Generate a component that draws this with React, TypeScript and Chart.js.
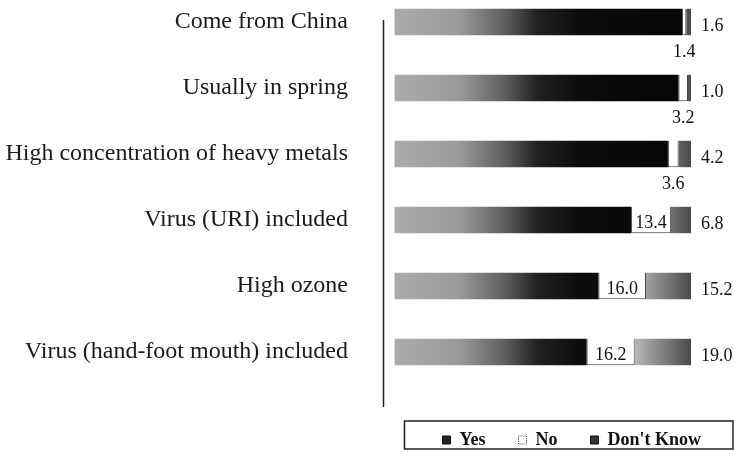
import React, { useEffect, useRef } from 'react';
import { Chart, registerables } from 'chart.js';

Chart.register(...registerables);

const categories = [
  'Come from China',
  'Usually in spring',
  'High concentration of heavy metals',
  'Virus (URI) included',
  'High ozone',
  'Virus (hand-foot mouth) included',
];
const yesValues = [97.0, 95.8, 92.2, 79.8, 68.8, 64.8];
const noValues = [1.4, 3.2, 3.6, 13.4, 16.0, 16.2];
const dontKnowValues = [1.6, 1.0, 4.2, 6.8, 15.2, 19.0];
const seriesNames = ['Yes', 'No', "Don't Know"];
const xMin = -3.9;
const xMax = 114.5;

const SERIF = '"Liberation Serif", "Times New Roman", serif';

export default function App() {
  const ref = useRef<HTMLCanvasElement>(null);

  useEffect(() => {
    const canvas = ref.current;
    if (!canvas) return;

    const yesFill = (c: any) => {
      const chart = c.chart;
      const xs = chart.scales && chart.scales.x;
      if (!chart.chartArea || !xs) return '#1a1a1a';
      const x0 = xs.getPixelForValue(0);
      const x1 = xs.getPixelForValue(100);
      const g = chart.ctx.createLinearGradient(x0, 0, x1, 0);
      g.addColorStop(0, '#acacac');
      g.addColorStop(0.22, '#9a9a9a');
      g.addColorStop(0.38, '#5a5a5a');
      g.addColorStop(0.48, '#222222');
      g.addColorStop(0.62, '#0c0c0c');
      g.addColorStop(1, '#050505');
      return g;
    };
    const dkFill = (c: any) => {
      const chart = c.chart;
      const xs = chart.scales && chart.scales.x;
      if (!chart.chartArea || !xs) return '#8a8a8a';
      const x0 = xs.getPixelForValue(80);
      const x1 = xs.getPixelForValue(100);
      const g = chart.ctx.createLinearGradient(x0, 0, x1, 0);
      g.addColorStop(0, '#bdbdbd');
      g.addColorStop(1, '#4a4a4a');
      return g;
    };

    const legendFills = ['#222222', '#ffffff', '#333333'];
    const legendStrokes = ['#111111', '#555555', '#111111'];

    const labelPlugin = {
      id: 'valueLabels',
      afterDatasetsDraw(chart: any) {
        const ctx = chart.ctx;
        ctx.save();
        ctx.font = `18px ${SERIF}`;
        ctx.fillStyle = '#111';
        ctx.textBaseline = 'middle';
        const noMeta = chart.getDatasetMeta(1);
        noMeta.data.forEach((el: any, i: number) => {
          const v = noValues[i];
          const cx = (el.x + el.base) / 2;
          ctx.textAlign = 'center';
          if (v >= 10) {
            ctx.fillText(v.toFixed(1), cx, el.y + 3);
          } else {
            ctx.fillText(v.toFixed(1), cx, el.y + 30);
          }
        });
        const dkMeta = chart.getDatasetMeta(2);
        dkMeta.data.forEach((el: any, i: number) => {
          ctx.textAlign = 'left';
          ctx.fillText(dontKnowValues[i].toFixed(1), el.x + 10, el.y + 4);
        });
        ctx.restore();
      },
    };

    const axisLinePlugin = {
      id: 'axisLine',
      afterDraw(chart: any) {
        const { ctx, chartArea } = chart;
        ctx.save();
        ctx.strokeStyle = '#222';
        ctx.lineWidth = 1.5;
        ctx.beginPath();
        ctx.moveTo(chartArea.left + 0.5, chartArea.top + 31);
        ctx.lineTo(chartArea.left + 0.5, chartArea.bottom + 22);
        ctx.stroke();
        ctx.restore();
      },
    };

    const legendBoxPlugin = {
      id: 'legendBox',
      afterDraw(chart: any) {
        const hb = chart.legend && chart.legend.legendHitBoxes;
        if (!hb || !hb.length) return;
        const ctx = chart.ctx;
        const first = hb[0];
        const last = hb[hb.length - 1];
        const left = first.left - 38;
        const right = Math.min(last.left + last.width + 32, chart.width - 1);
        const cy = first.top + first.height / 2;
        ctx.save();
        ctx.strokeStyle = '#222';
        ctx.lineWidth = 1.5;
        ctx.strokeRect(left, cy - 19, right - left, 28);
        ctx.restore();
      },
    };

    const chart = new Chart(canvas, {
      type: 'bar',
      data: {
        labels: categories,
        datasets: [
          {
            label: seriesNames[0],
            data: yesValues,
            backgroundColor: yesFill,
            borderWidth: 0,
          },
          {
            label: seriesNames[1],
            data: noValues,
            backgroundColor: '#ffffff',
            borderColor: '#333333',
            borderWidth: { top: 0, right: 1, bottom: 1, left: 1 },
            borderSkipped: false,
          },
          {
            label: seriesNames[2],
            data: dontKnowValues,
            backgroundColor: dkFill,
            borderWidth: 0,
          },
        ],
      },
      options: {
        indexAxis: 'y',
        responsive: false,
        animation: false,
        events: [],
        datasets: {
          bar: { categoryPercentage: 1, barPercentage: 0.4 },
        },
        layout: { padding: 0 },
        scales: {
          x: {
            stacked: true,
            min: xMin,
            max: xMax,
            display: true,
            grid: { display: false, drawTicks: false },
            border: { display: false },
            ticks: { display: false },
            afterFit: (s: any) => {
              s.height = 13;
              s.paddingLeft = 0;
              s.paddingRight = 0;
            },
          },
          y: {
            stacked: true,
            grid: { display: false, drawTicks: false },
            border: { display: false },
            ticks: {
              padding: 35,
              color: '#1a1a1a',
              font: { family: SERIF, size: 24 },
            },
            afterFit: (s: any) => {
              s.width = 383;
              s.paddingTop = 0;
              s.paddingBottom = 0;
            },
          },
        },
        plugins: {
          tooltip: { enabled: false },
          legend: {
            position: 'bottom',
            align: 'end',
            labels: {
              boxWidth: 8,
              boxHeight: 8,
              padding: 33,
              color: '#111',
              font: { family: SERIF, size: 18, weight: 'bold' },
              generateLabels: () =>
                seriesNames.map((t, i) => ({
                  text: t,
                  fillStyle: legendFills[i],
                  strokeStyle: legendStrokes[i],
                  lineWidth: 1,
                  lineDash: i === 1 ? [1, 1] : [],
                  hidden: false,
                  datasetIndex: i,
                  fontColor: '#111',
                })),
            },
          },
        },
      },
      plugins: [labelPlugin, axisLinePlugin, legendBoxPlugin],
    } as any);

    return () => chart.destroy();
  }, []);

  return (
    <div
      style={{
        position: 'fixed',
        left: 0,
        top: 0,
        width: 734,
        height: 457,
        overflow: 'hidden',
        background: '#fff',
      }}
    >
      <canvas
        ref={ref}
        width={734}
        height={470}
        style={{ position: 'absolute', left: 0, top: -11, width: 734, height: 470 }}
      />
    </div>
  );
}
